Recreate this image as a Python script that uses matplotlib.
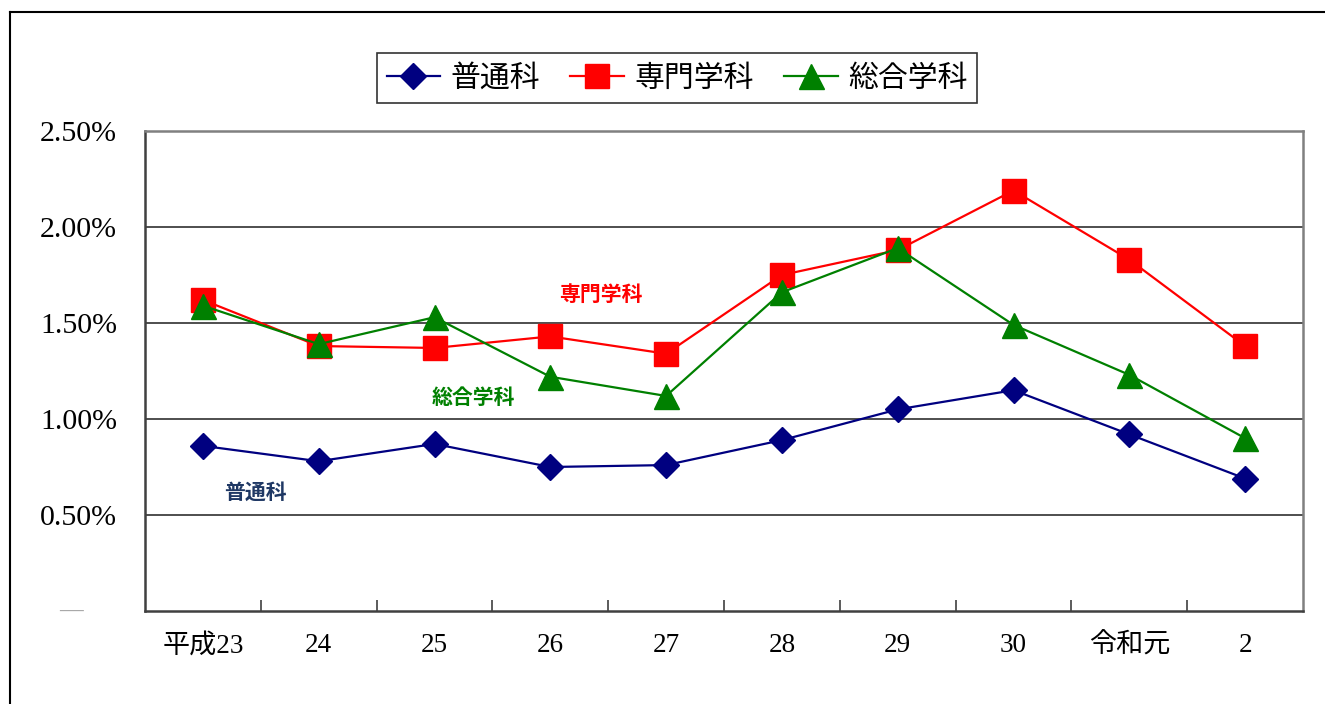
import matplotlib
matplotlib.use('Agg')
import matplotlib.pyplot as plt
from matplotlib.lines import Line2D
import matplotlib.transforms as mtransforms

plt.rcParams['font.family'] = ['Liberation Serif', 'Noto Sans CJK JP', 'DejaVu Sans']

years = ['平成23', '24', '25', '26', '27', '28', '29', '30', '令和元', '2']
futsu = [0.86, 0.78, 0.87, 0.75, 0.76, 0.89, 1.05, 1.15, 0.92, 0.69]
senmon = [1.62, 1.38, 1.37, 1.43, 1.34, 1.75, 1.88, 2.19, 1.83, 1.38]
sogo = [1.59, 1.39, 1.53, 1.22, 1.12, 1.66, 1.89, 1.49, 1.23, 0.90]
yticks = [0.5, 1.0, 1.5, 2.0, 2.5]

fig = plt.figure(figsize=(13.25, 7.04), dpi=100)
ax = fig.add_axes([145/1325, 1-611/704, (1303-145)/1325, (611-131)/704])

x = list(range(len(years)))
ax.plot(x, futsu, color='#000080', lw=1.6, marker='D', ms=13, label='普通科', zorder=3)
ax.plot(x, senmon, color='#ff0000', lw=1.6, marker='s', ms=17, label='専門学科', zorder=3)
ax.plot(x, sogo, color='#008000', lw=1.6, marker='^', ms=18, label='総合学科', zorder=4)

ax.set_xlim(-0.5, 9.5)
ax.set_ylim(0, 2.5)
ax.set_yticks(yticks)
ax.set_yticklabels(['%.2f%%' % v for v in yticks], fontsize=21.5, family='Liberation Serif')
ax.tick_params(axis='y', length=0, pad=20)
for v in yticks[:-1]:
    ax.axhline(v, color='#404040', lw=1.3, zorder=1)

ax.set_xticks(x)
ax.set_xticklabels(years, fontsize=19.5, family=['Liberation Serif', 'Noto Sans CJK JP'])
ax.set_xticks([i + 0.5 for i in x[:-1]], minor=True)
ax.tick_params(axis='x', which='major', length=0, pad=16)
ax.tick_params(axis='x', which='minor', direction='in', length=8, width=1.2, color='#404040')

for s in ['left', 'bottom']:
    ax.spines[s].set_color('#404040')
    ax.spines[s].set_linewidth(1.8)
for s in ['top', 'right']:
    ax.spines[s].set_color('#808080')
    ax.spines[s].set_linewidth(1.8)

# zero label shown as dash
tr = mtransforms.blended_transform_factory(ax.transAxes, ax.transData)
ax.text(-0.064, 0, '—', transform=tr, ha='center', va='center', color='#a8a8a8',
        fontsize=17, fontweight='bold')

# series labels inside the plot
ax.text(3.44, 1.65, '専門学科', color='#ff0000', fontsize=15, fontweight='bold',
        family='Noto Sans CJK JP', ha='center', va='center')
ax.text(2.34, 1.11, '総合学科', color='#008000', fontsize=15, fontweight='bold',
        family='Noto Sans CJK JP', ha='center', va='center')
ax.text(0.45, 0.62, '普通科', color='#1f3864', fontsize=15, fontweight='bold',
        family='Noto Sans CJK JP', ha='center', va='center')

leg = ax.legend(loc='center', bbox_to_anchor=(0.511, 0.889), bbox_transform=fig.transFigure,
                ncol=3, frameon=True, fancybox=False, edgecolor='black',
                prop={'family': 'Noto Sans CJK JP', 'size': 21.5},
                handlelength=1.8, columnspacing=1.0, handletextpad=0.35, borderpad=0.32)
leg.get_frame().set_linewidth(1.2)

# outer frame
fig.add_artist(Line2D([10/1325, 10/1325], [0, 1-12/704], color='black', lw=1.5))
fig.add_artist(Line2D([10/1325, 1], [1-12/704, 1-12/704], color='black', lw=1.5))

fig.savefig('out.png', dpi=100, facecolor='white')
